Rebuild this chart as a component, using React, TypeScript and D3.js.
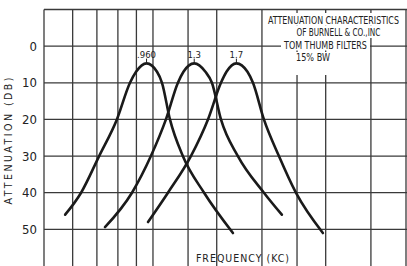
import React, { useRef, useEffect } from "react";
import * as d3 from "d3";

// frequency grid (kc), log scale
const freqGrid = [0.5, 0.6, 0.7, 0.8, 0.9, 1, 1.25, 1.5, 2, 2.5, 3, 4, 5];
const dbGrid = [-10, 0, 10, 20, 30, 40, 50];
const dbLabels = [0, 10, 20, 30, 40, 50];

// [freq kc, attenuation db]
const filter960: [number, number][] = [
  [0.572, 46], [0.633, 40], [0.71, 30], [0.795, 20], [0.864, 10], [0.898, 7],
  [0.96, 4.7], [1.026, 7], [1.059, 10], [1.114, 20], [1.209, 30], [1.384, 40], [1.663, 51],
];
const filter13: [number, number][] = [
  [0.737, 49.4], [0.875, 40], [0.987, 30], [1.086, 20], [1.172, 10], [1.214, 7],
  [1.3, 4.7], [1.396, 7], [1.455, 10], [1.541, 20], [1.716, 30], [2.025, 40], [2.27, 46],
];
const filter17: [number, number][] = [
  [0.969, 48], [1.1, 40], [1.273, 30], [1.419, 20], [1.541, 10], [1.596, 7],
  [1.7, 4.7], [1.824, 7], [1.889, 10], [2.025, 20], [2.228, 30], [2.482, 40], [2.947, 51],
];
const series = [filter960, filter13, filter17];
const peakLabels = [".960", "1.3", "1.7"];
const peakFreqs = [0.96, 1.3, 1.7];

const titleLines = [
  "ATTENUATION CHARACTERISTICS",
  "OF BURNELL & CO.,INC",
  "TOM THUMB FILTERS",
  "15% BW",
];

const FONT = "'Liberation Sans Narrow', 'DejaVu Sans Condensed', sans-serif";

const App = () => {
  const ref = useRef<SVGSVGElement>(null);

  useEffect(() => {
    const W = 407, H = 266;
    const svg = d3.select(ref.current);
    svg.selectAll("*").remove();
    svg.attr("width", W).attr("height", H);

    svg.append("rect").attr("width", W).attr("height", H).attr("fill", "#fff");

    const x = d3.scaleLog().domain([0.5, 5]).range([44, 406]);
    const y = d3.scaleLinear().domain([-10, 60]).range([9.5, 266]);

    const grid = svg.append("g").attr("stroke", "#3a3a3a").attr("stroke-width", 1.3);
    grid.selectAll("line.v").data(freqGrid).join("line")
      .attr("class", "v")
      .attr("x1", d => x(d)).attr("x2", d => x(d))
      .attr("y1", y(-10)).attr("y2", H);
    grid.selectAll("line.h").data(dbGrid).join("line")
      .attr("class", "h")
      .attr("x1", x(0.5)).attr("x2", W)
      .attr("y1", d => y(d)).attr("y2", d => y(d));

    // title paste-up: [left x, width], white patch behind each line
    const place = [[268, 131], [296.5, 84], [284, 83], [296, 34]];
    const title = svg.append("g");
    title.selectAll("rect").data(place).join("rect")
      .attr("x", d => d[0] - 3)
      .attr("y", (d, i) => (i === 3 ? 52 : 13 + i * 12.5))
      .attr("width", d => d[1] + 6)
      .attr("height", (d, i) => (i === 3 ? 23 : 12.5))
      .attr("fill", "#fff");
    title.selectAll("g").data(titleLines).join("g")
      .each(function (d, i) {
        const g = d3.select(this);
        const t = g.append("text")
          .attr("font-family", FONT)
          .attr("font-size", 10.5)
          .attr("fill", "#222")
          .text(d);
        const w = (t.node() as SVGTextElement).getComputedTextLength() || place[i][1];
        g.attr("transform", `translate(${place[i][0]},${23.5 + i * 12.5}) scale(${place[i][1] / w},1)`);
      });

    const line = d3.line<[number, number]>()
      .x(d => x(d[0]))
      .y(d => y(d[1]))
      .curve(d3.curveMonotoneX);

    svg.append("g").selectAll("path").data(series).join("path")
      .attr("d", d => line(d))
      .attr("fill", "none")
      .attr("stroke", "#1a1a1a")
      .attr("stroke-width", 2.6)
      .attr("stroke-linecap", "round");

    // peak ticks and labels
    const peaks = svg.append("g");
    peaks.selectAll("line").data(peakFreqs).join("line")
      .attr("x1", d => x(d)).attr("x2", d => x(d))
      .attr("y1", y(4.7)).attr("y2", y(3.4))
      .attr("stroke", "#222").attr("stroke-width", 1);
    peaks.selectAll("text").data(peakFreqs).join("text")
      .attr("x", d => x(d))
      .attr("y", y(3.3))
      .attr("text-anchor", "middle")
      .attr("font-family", FONT)
      .attr("font-size", 9.5)
      .attr("fill", "#222")
      .text((d, i) => peakLabels[i]);

    // y tick labels
    svg.append("g").selectAll("text").data(dbLabels).join("text")
      .attr("x", 37)
      .attr("y", d => y(d) + 4.5)
      .attr("text-anchor", "end")
      .attr("font-family", FONT)
      .attr("font-size", 13)
      .attr("fill", "#222")
      .text(d => d);

    svg.append("text")
      .attr("transform", `translate(12,141) rotate(-90)`)
      .attr("text-anchor", "middle")
      .attr("font-family", FONT)
      .attr("font-size", 10.5)
      .attr("textLength", 127)
      .attr("lengthAdjust", "spacing")
      .attr("fill", "#222")
      .text("ATTENUATION (DB)");

    svg.append("text")
      .attr("x", 243)
      .attr("y", 262)
      .attr("text-anchor", "middle")
      .attr("font-family", FONT)
      .attr("font-size", 10.5)
      .attr("letter-spacing", 1)
      .attr("fill", "#222")
      .text("FREQUENCY (KC)");
  }, []);

  return (
    <svg ref={ref} style={{ position: "absolute", left: 0, top: 0 }}></svg>
  );
};

export default App;
